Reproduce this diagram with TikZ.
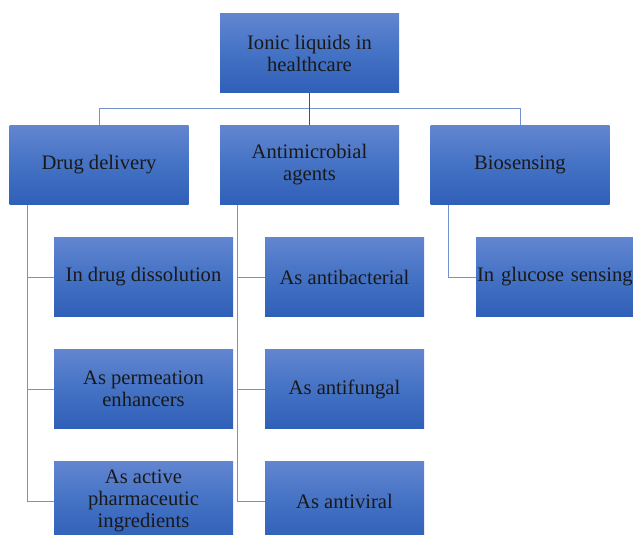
\documentclass[tikz,border=0pt]{standalone}
\usepackage{fontspec}
\setmainfont{Liberation Serif}
\usetikzlibrary{calc}
\definecolor{boxtop}{RGB}{98,133,208}
\definecolor{boxmid}{RGB}{68,114,196}
\definecolor{boxbot}{RGB}{48,95,184}
\definecolor{linklight}{RGB}{114,147,208}
\definecolor{linkdark}{RGB}{47,85,151}
\tikzset{
    box/.style={rectangle, inner sep=0pt, minimum width=179pt, minimum height=79pt,
        top color=boxtop, bottom color=boxbot, middle color=boxmid,
        align=center, font=\fontsize{20.6}{22}\selectfont, text=black!90},
    subbox/.style={box, minimum width=159pt},
    link/.style={draw=linklight, line width=1pt},
    stem/.style={draw=linkdark, line width=1.6pt}
}
\begin{document}
\begin{tikzpicture}[x=1pt,y=-1pt]
            \useasboundingbox (0,0) rectangle (633,535);
            % top level
            \node[box] (root) at (309.5,53) {Ionic liquids in\\healthcare};
            \node[box] (drug) at (99,165) {Drug delivery};
            \node[box] (anti) at (309.5,165) {Antimicrobial\\agents};
            \node[box] (bio) at (520,165) {Biosensing};
            % children
            \node[box] (d1) at (143.5,277) {In drug dissolution};
            \node[box] (d2) at (143.5,389) {As permeation\\enhancers};
            \node[box] (d3) at (143.5,501) {As active\\pharmaceutic\\ingredients};
            \node[subbox] (a1) at (344.5,277) {As antibacterial};
            \node[subbox] (a2) at (344.5,389) {As antifungal};
            \node[subbox] (a3) at (344.5,501) {As antiviral};
            \node[box, text width=177pt, align=left, inner xsep=1pt] (b1) at (565.5,277) {In glucose sensing};
            % connectors
            \coordinate (J) at ($(root.south)+(0,16)$);
            \draw[link] (drug.north) |- (J) -| (bio.north);
            \draw[stem] (root.south) -- (anti.north);
            \draw[link] ([xshift=18pt]drug.south west) |- (d3.west);
            \draw[link] ([xshift=18pt]drug.south west) |- (d1.west);
            \draw[link] ([xshift=18pt]drug.south west) |- (d2.west);
            \draw[link] ([xshift=18pt]anti.south west) |- (a3.west);
            \draw[link] ([xshift=18pt]anti.south west) |- (a1.west);
            \draw[link] ([xshift=18pt]anti.south west) |- (a2.west);
            \draw[link] ([xshift=18pt]bio.south west) |- (b1.west);
\end{tikzpicture}
\end{document}
